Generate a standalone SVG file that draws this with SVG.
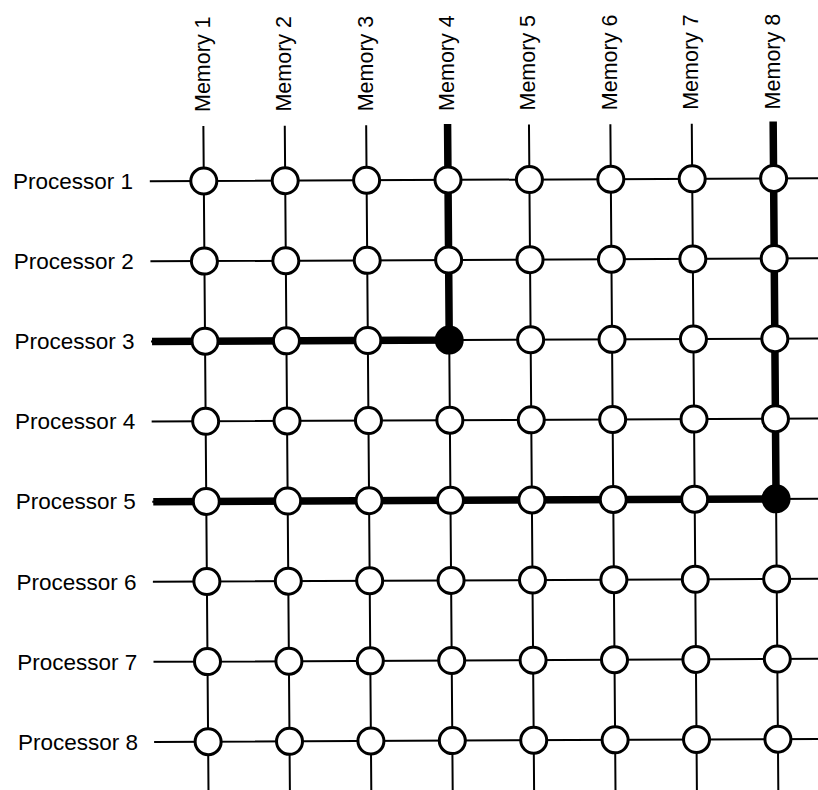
<svg xmlns="http://www.w3.org/2000/svg" width="818" height="790" viewBox="0 0 818 790">
  <style>
    .lbl { font-family: "Liberation Sans", Arial, sans-serif; fill: #000; }
    .proc { font-size: 22.5px; }
    .mem { font-size: 21.5px; }
    .wire { stroke: #000; stroke-width: 2; fill: none; }
    .bus { stroke: #000; stroke-width: 7.5; fill: none; }
    .sw { fill: #fff; stroke: #000; stroke-width: 3; }
    .sw.on { fill: #000; }
  </style>

  <!-- Processor labels -->
  <g id="labels-processors" class="lbl proc">
    <text x="13" y="189">Processor 1</text>
    <text x="13.7" y="269.1">Processor 2</text>
    <text x="14.4" y="349.2">Processor 3</text>
    <text x="15.1" y="429.3">Processor 4</text>
    <text x="15.8" y="509.4">Processor 5</text>
    <text x="16.5" y="589.5">Processor 6</text>
    <text x="17.2" y="669.6">Processor 7</text>
    <text x="17.9" y="749.7">Processor 8</text>
  </g>

  <!-- Memory labels (rotated, reading bottom to top) -->
  <g id="labels-memories" class="lbl mem">
    <text transform="translate(209.8 112) rotate(-90)">Memory 1</text>
    <text transform="translate(291.2 111.6) rotate(-90)">Memory 2</text>
    <text transform="translate(372.6 111.3) rotate(-90)">Memory 3</text>
    <text transform="translate(454 110.9) rotate(-90)">Memory 4</text>
    <text transform="translate(535.4 110.5) rotate(-90)">Memory 5</text>
    <text transform="translate(616.8 110.2) rotate(-90)">Memory 6</text>
    <text transform="translate(698.2 109.8) rotate(-90)">Memory 7</text>
    <text transform="translate(779.6 109.4) rotate(-90)">Memory 8</text>
  </g>

  <!-- Crossbar grid, slightly skewed -->
  <g transform="matrix(1 -0.0045 0.0077 1 203.8 181)">
    <g id="connectors">
      <!-- memory columns -->
      <path class="wire" d="M0,-55V612 M81.4,-55V612 M162.8,-55V612 M244.2,-55V612 M325.6,-55V612 M407,-55V612 M488.4,-55V612 M569.8,-55V612"/>
      <!-- processor rows -->
      <path class="wire" d="M-54,0H616 M-54,80.1H616 M-54,160.2H616 M-54,240.3H616 M-54,320.4H616 M-54,400.5H616 M-54,480.6H616 M-54,560.7H616"/>
      <!-- active paths: Processor 3 to Memory 4, Processor 5 to Memory 8 -->
      <path class="bus" d="M-53,160.2H244.2V-56"/>
      <path class="bus" d="M-53,320.4H569.8V-57"/>
    </g>

    <g id="switch-r1"><circle class="sw" cx="0" cy="0" r="13"/><circle class="sw" cx="81.4" cy="0" r="13"/><circle class="sw" cx="162.8" cy="0" r="13"/><circle class="sw" cx="244.2" cy="0" r="13"/><circle class="sw" cx="325.6" cy="0" r="13"/><circle class="sw" cx="407" cy="0" r="13"/><circle class="sw" cx="488.4" cy="0" r="13"/><circle class="sw" cx="569.8" cy="0" r="13"/></g>
    <g id="switch-r2"><circle class="sw" cx="0" cy="80.1" r="13"/><circle class="sw" cx="81.4" cy="80.1" r="13"/><circle class="sw" cx="162.8" cy="80.1" r="13"/><circle class="sw" cx="244.2" cy="80.1" r="13"/><circle class="sw" cx="325.6" cy="80.1" r="13"/><circle class="sw" cx="407" cy="80.1" r="13"/><circle class="sw" cx="488.4" cy="80.1" r="13"/><circle class="sw" cx="569.8" cy="80.1" r="13"/></g>
    <g id="switch-r3"><circle class="sw" cx="0" cy="160.2" r="13"/><circle class="sw" cx="81.4" cy="160.2" r="13"/><circle class="sw" cx="162.8" cy="160.2" r="13"/><circle class="sw on" cx="244.2" cy="160.2" r="13"/><circle class="sw" cx="325.6" cy="160.2" r="13"/><circle class="sw" cx="407" cy="160.2" r="13"/><circle class="sw" cx="488.4" cy="160.2" r="13"/><circle class="sw" cx="569.8" cy="160.2" r="13"/></g>
    <g id="switch-r4"><circle class="sw" cx="0" cy="240.3" r="13"/><circle class="sw" cx="81.4" cy="240.3" r="13"/><circle class="sw" cx="162.8" cy="240.3" r="13"/><circle class="sw" cx="244.2" cy="240.3" r="13"/><circle class="sw" cx="325.6" cy="240.3" r="13"/><circle class="sw" cx="407" cy="240.3" r="13"/><circle class="sw" cx="488.4" cy="240.3" r="13"/><circle class="sw" cx="569.8" cy="240.3" r="13"/></g>
    <g id="switch-r5"><circle class="sw" cx="0" cy="320.4" r="13"/><circle class="sw" cx="81.4" cy="320.4" r="13"/><circle class="sw" cx="162.8" cy="320.4" r="13"/><circle class="sw" cx="244.2" cy="320.4" r="13"/><circle class="sw" cx="325.6" cy="320.4" r="13"/><circle class="sw" cx="407" cy="320.4" r="13"/><circle class="sw" cx="488.4" cy="320.4" r="13"/><circle class="sw on" cx="569.8" cy="320.4" r="13"/></g>
    <g id="switch-r6"><circle class="sw" cx="0" cy="400.5" r="13"/><circle class="sw" cx="81.4" cy="400.5" r="13"/><circle class="sw" cx="162.8" cy="400.5" r="13"/><circle class="sw" cx="244.2" cy="400.5" r="13"/><circle class="sw" cx="325.6" cy="400.5" r="13"/><circle class="sw" cx="407" cy="400.5" r="13"/><circle class="sw" cx="488.4" cy="400.5" r="13"/><circle class="sw" cx="569.8" cy="400.5" r="13"/></g>
    <g id="switch-r7"><circle class="sw" cx="0" cy="480.6" r="13"/><circle class="sw" cx="81.4" cy="480.6" r="13"/><circle class="sw" cx="162.8" cy="480.6" r="13"/><circle class="sw" cx="244.2" cy="480.6" r="13"/><circle class="sw" cx="325.6" cy="480.6" r="13"/><circle class="sw" cx="407" cy="480.6" r="13"/><circle class="sw" cx="488.4" cy="480.6" r="13"/><circle class="sw" cx="569.8" cy="480.6" r="13"/></g>
    <g id="switch-r8"><circle class="sw" cx="0" cy="560.7" r="13"/><circle class="sw" cx="81.4" cy="560.7" r="13"/><circle class="sw" cx="162.8" cy="560.7" r="13"/><circle class="sw" cx="244.2" cy="560.7" r="13"/><circle class="sw" cx="325.6" cy="560.7" r="13"/><circle class="sw" cx="407" cy="560.7" r="13"/><circle class="sw" cx="488.4" cy="560.7" r="13"/><circle class="sw" cx="569.8" cy="560.7" r="13"/></g>
  </g>
</svg>
